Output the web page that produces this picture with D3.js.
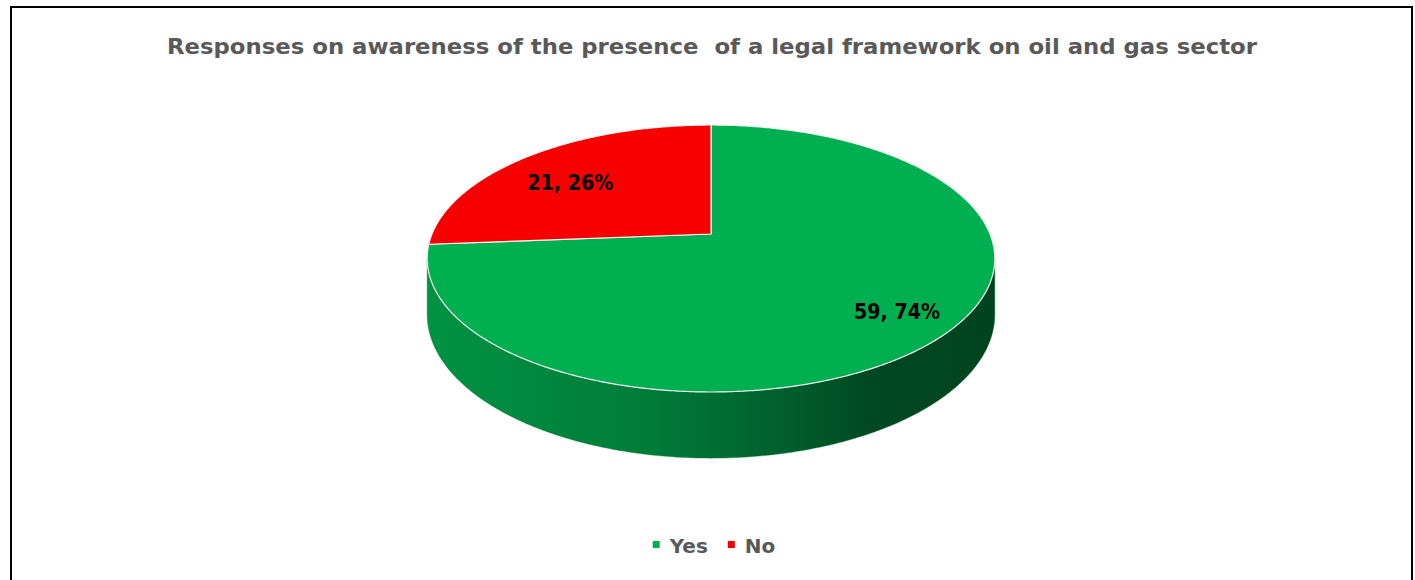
<!DOCTYPE html>
<html>
<head>
<meta charset="utf-8">
<script src="https://cdn.jsdelivr.net/npm/d3@7"></script>
<style>
  html, body { margin: 0; padding: 0; background: #fff; }
  svg { display: block; }
</style>
</head>
<body>
<svg id="chart" width="1415" height="580"></svg>
<script>
// ---- data ----
const categories = ["Yes", "No"];
const counts = [59, 21];
const sliceColors = ["#00b050", "#f70000"];
const titleText = "Responses on awareness of the presence  of a legal framework on oil and gas sector";

// ---- layout ----
const W = 1415, H = 580;
const cx = 711, cy = 234;        // apex of the slices on the top face
const rx = 279, ry = 129;        // disc radii before perspective
const persp = 0.1835;            // perspective strength (near side larger)
const depth = 54;                // disc thickness
const labelRadius = 0.78;
const labelNudge = [[9, 2], [5, 11]];

const svg = d3.select("#chart");

// outer frame
svg.append("rect")
  .attr("x", 11).attr("y", 7)
  .attr("width", 1401).attr("height", 640)
  .attr("fill", "#fff")
  .attr("stroke", "#000")
  .attr("stroke-width", 2);

// title
svg.append("text")
  .attr("x", 712).attr("y", 54)
  .attr("text-anchor", "middle")
  .attr("font-family", "'DejaVu Sans', sans-serif")
  .attr("font-weight", "bold")
  .attr("font-size", 22)
  .attr("fill", "#595959")
  .attr("textLength", 1090)
  .attr("lengthAdjust", "spacingAndGlyphs")
  .style("white-space", "pre")
  .text(titleText);

// ---- projection of a tilted disc ----
function project(angle, r, drop) {
  const u = r * Math.sin(angle), v = -r * Math.cos(angle);
  const s = 1 / (1 - persp * v);
  return [cx + rx * u * s, cy + (ry * v + (drop || 0)) * s];
}
function arcPoints(a0, a1, drop) {
  const n = Math.max(2, Math.ceil(Math.abs(a1 - a0) / (Math.PI / 360)));
  return d3.range(n + 1).map(i => project(a0 + (a1 - a0) * i / n, 1, drop));
}
const line = d3.line();

const arcs = d3.pie().sort(null).value(d => d)(counts);
const total = d3.sum(counts);

// side shading gradients
const defs = svg.append("defs");
arcs.forEach((a, i) => {
  const base = d3.color(sliceColors[i]);
  const g = defs.append("linearGradient")
    .attr("id", "side" + i)
    .attr("gradientUnits", "userSpaceOnUse")
    .attr("x1", cx - rx - 6).attr("x2", cx + rx + 6)
    .attr("y1", 0).attr("y2", 0);
  [[0, 0.5], [0.4, 1.0], [0.62, 1.7], [0.78, 2.5], [1, 2.65]].forEach(([o, k]) => {
    g.append("stop").attr("offset", o).attr("stop-color", base.darker(k).formatHex());
  });
});

// visible front wall lies between the two silhouette points
const frontStart = Math.acos(-persp);
const frontEnd = 2 * Math.PI - frontStart;

const sides = svg.append("g");
arcs.forEach((a, i) => {
  const s0 = Math.max(a.startAngle, frontStart);
  const s1 = Math.min(a.endAngle, frontEnd);
  if (s0 >= s1) return;
  const pts = arcPoints(s0, s1, 0).concat(arcPoints(s1, s0, depth));
  sides.append("path")
    .attr("d", line(pts) + "Z")
    .attr("fill", `url(#side${i})`)
    .attr("stroke", d3.color(sliceColors[i]).darker(1.2).formatHex())
    .attr("stroke-width", 0.4);
});

// top faces
const tops = svg.append("g");
arcs.forEach((a, i) => {
  const pts = [[cx, cy]].concat(arcPoints(a.startAngle, a.endAngle, 0));
  tops.append("path")
    .attr("d", line(pts) + "Z")
    .attr("fill", sliceColors[i])
    .attr("stroke", "#f2f2f2")
    .attr("stroke-width", 1.2)
    .attr("stroke-linejoin", "round");
});

// data labels
arcs.forEach((a, i) => {
  const mid = (a.startAngle + a.endAngle) / 2;
  const [x, y] = project(mid, labelRadius, 0);
  svg.append("text")
    .attr("x", x + labelNudge[i][0])
    .attr("y", y + labelNudge[i][1])
    .attr("dy", "0.36em")
    .attr("text-anchor", "middle")
    .attr("font-family", "'DejaVu Sans', sans-serif")
    .attr("font-weight", "bold")
    .attr("font-size", 21)
    .attr("fill", "#000")
    .attr("textLength", 86)
    .attr("lengthAdjust", "spacingAndGlyphs")
    .text(`${counts[i]}, ${Math.round(counts[i] / total * 100)}%`);
});

// legend
const legend = svg.append("g");
let lx = 0;
categories.forEach((c, i) => {
  const item = legend.append("g").attr("transform", `translate(${lx},0)`);
  item.append("rect")
    .attr("x", 0).attr("y", -12)
    .attr("width", 7).attr("height", 7)
    .attr("fill", sliceColors[i]);
  const t = item.append("text")
    .attr("x", 17).attr("y", 0)
    .attr("font-family", "'DejaVu Sans', sans-serif")
    .attr("font-weight", "bold")
    .attr("font-size", 20)
    .attr("fill", "#595959")
    .text(c);
  lx += 17 + t.node().getComputedTextLength() + 20;
});
const lw = lx - 20;
legend.attr("transform", `translate(${714 - lw / 2},553)`);
</script>
</body>
</html>
